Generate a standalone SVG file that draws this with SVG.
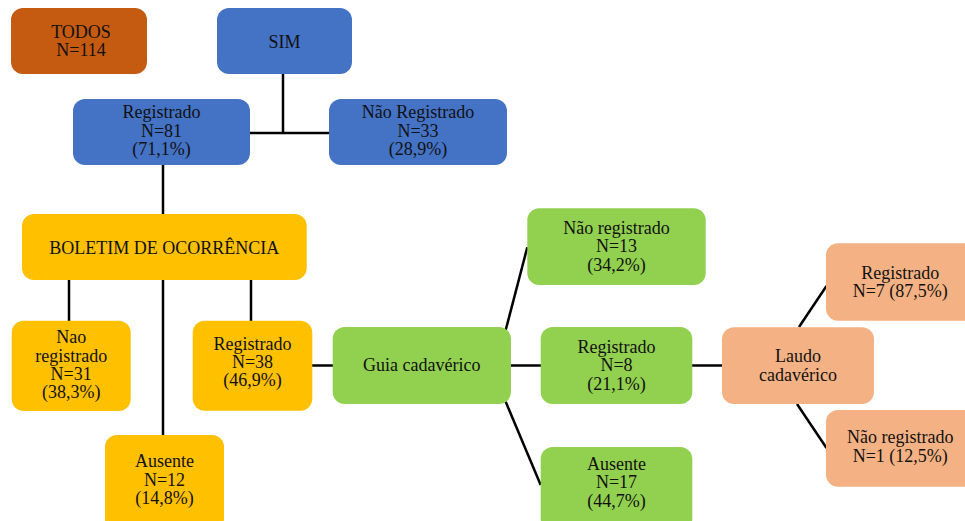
<svg xmlns="http://www.w3.org/2000/svg" width="965" height="521" viewBox="0 0 965 521">
<style>
text{font-family:"Liberation Serif","Times New Roman",serif;font-size:18px;fill:#111;text-anchor:middle}
.blue{fill:#4472C4}
.orange{fill:#C55A11}
.yellow{fill:#FFC000}
.green{fill:#92D050}
.salmon{fill:#F4B183}
.conn line{stroke:#000;stroke-width:2.5;fill:none}
</style>
<rect width="965" height="521" fill="#fff"/>
<g class="conn">
<line x1="283" y1="74" x2="283" y2="133"/>
<line x1="250" y1="133" x2="329" y2="133"/>
<line x1="163" y1="165" x2="163" y2="214"/>
<line x1="69" y1="280" x2="69" y2="321"/>
<line x1="163" y1="280" x2="163" y2="435"/>
<line x1="251" y1="280" x2="251" y2="321"/>
<line x1="312" y1="365.5" x2="333" y2="365.5"/>
<line x1="505.7" y1="330" x2="527.3" y2="247.3"/>
<line x1="511" y1="365.5" x2="541" y2="365.5"/>
<line x1="505.7" y1="401.7" x2="540.7" y2="485"/>
<line x1="692" y1="365.5" x2="722" y2="365.5"/>
<line x1="799" y1="327" x2="826.5" y2="286"/>
<line x1="797" y1="404" x2="826.5" y2="448"/>
</g>
<g id="todos">
<rect class="orange" x="11" y="8" width="136" height="66" rx="12"/>
<text x="81" y="37.6">TODOS</text>
<text x="81" y="56.4">N=114</text>
</g>
<g id="sim">
<rect class="blue" x="217" y="8" width="135" height="66" rx="12"/>
<text x="284.5" y="48.3">SIM</text>
</g>
<g id="sim-registrado">
<rect class="blue" x="73" y="99" width="177" height="66" rx="12"/>
<text x="161.5" y="118.3">Registrado</text>
<text x="161.5" y="136.6">N=81</text>
<text x="161.5" y="154.9">(71,1%)</text>
</g>
<g id="sim-nao-registrado">
<rect class="blue" x="329" y="99" width="178" height="66" rx="12"/>
<text x="418" y="118.3">Não Registrado</text>
<text x="418" y="136.6">N=33</text>
<text x="418" y="154.9">(28,9%)</text>
</g>
<g id="boletim">
<rect class="yellow" x="22" y="214" width="284.7" height="66" rx="12"/>
<text x="164.3" y="254">BOLETIM DE OCORRÊNCIA</text>
</g>
<g id="bo-nao-registrado">
<rect class="yellow" x="11.7" y="320.7" width="119" height="90.3" rx="12"/>
<text x="71.2" y="343.3">Nao</text>
<text x="71.2" y="361.6">registrado</text>
<text x="71.2" y="379.9">N=31</text>
<text x="71.2" y="398.2">(38,3%)</text>
</g>
<g id="bo-registrado">
<rect class="yellow" x="192.7" y="320.7" width="119.6" height="90" rx="12"/>
<text x="252.5" y="349.7">Registrado</text>
<text x="252.5" y="368">N=38</text>
<text x="252.5" y="386.3">(46,9%)</text>
</g>
<g id="bo-ausente">
<rect class="yellow" x="105" y="435" width="119" height="96" rx="12"/>
<text x="164.5" y="467">Ausente</text>
<text x="164.5" y="485.5">N=12</text>
<text x="164.5" y="504">(14,8%)</text>
</g>
<g id="guia">
<rect class="green" x="332.7" y="327" width="178.3" height="77" rx="12"/>
<text x="421.8" y="370.7">Guia cadavérico</text>
</g>
<g id="guia-nao-registrado">
<rect class="green" x="527.3" y="208.3" width="178.4" height="76.7" rx="12"/>
<text x="616.5" y="233.5">Não registrado</text>
<text x="616.5" y="252">N=13</text>
<text x="616.5" y="270.5">(34,2%)</text>
</g>
<g id="guia-registrado">
<rect class="green" x="540.7" y="327" width="151.6" height="77" rx="12"/>
<text x="616.5" y="352.5">Registrado</text>
<text x="616.5" y="371">N=8</text>
<text x="616.5" y="389.5">(21,1%)</text>
</g>
<g id="guia-ausente">
<rect class="green" x="540.7" y="447" width="151.6" height="84" rx="12"/>
<text x="616.5" y="469.5">Ausente</text>
<text x="616.5" y="488">N=17</text>
<text x="616.5" y="506.5">(44,7%)</text>
</g>
<g id="laudo">
<rect class="salmon" x="722" y="327.3" width="152" height="76.7" rx="12"/>
<text x="798" y="362.3">Laudo</text>
<text x="798" y="381">cadavérico</text>
</g>
<g id="laudo-registrado">
<rect class="salmon" x="826" y="243.3" width="150" height="77.4" rx="12"/>
<text x="900.3" y="278.5">Registrado</text>
<text x="900.3" y="297">N=7 (87,5%)</text>
</g>
<g id="laudo-nao-registrado">
<rect class="salmon" x="826" y="410" width="150" height="76.7" rx="12"/>
<text x="900.3" y="443.3">Não registrado</text>
<text x="900.3" y="461.8">N=1 (12,5%)</text>
</g>
</svg>
